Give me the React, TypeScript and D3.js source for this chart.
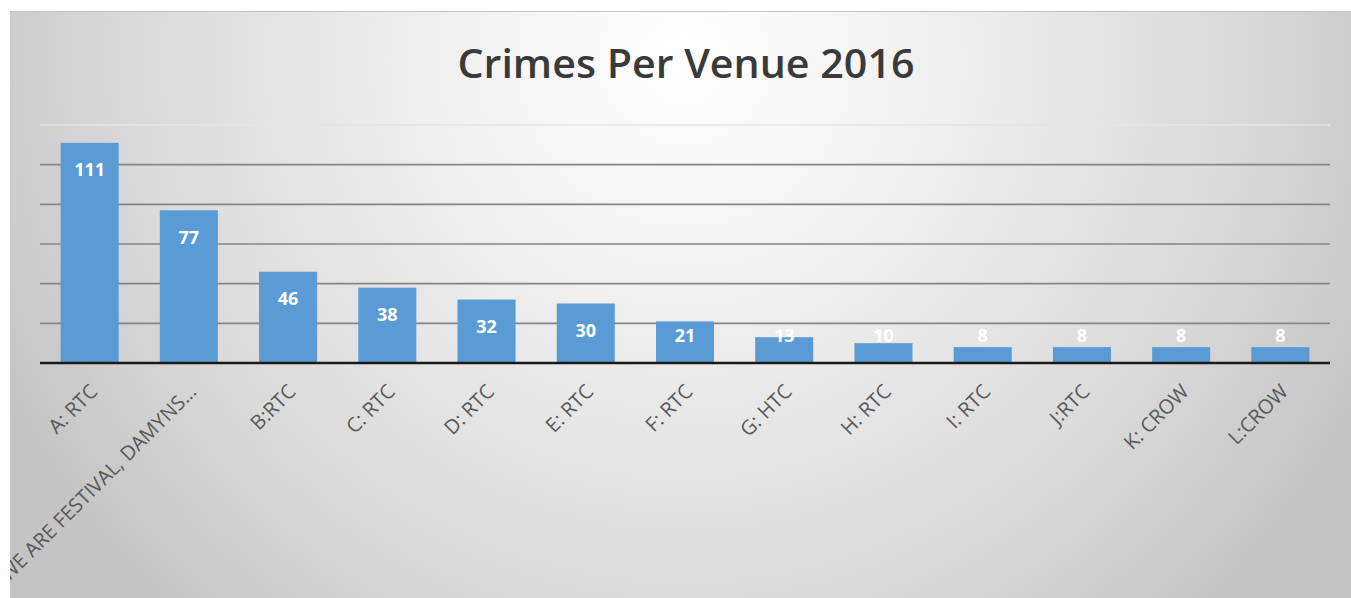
import React from "react";
import * as d3 from "d3";

const categories = [
  "A: RTC",
  "WE ARE FESTIVAL, DAMYNS...",
  "B:RTC",
  "C: RTC",
  "D: RTC",
  "E: RTC",
  "F: RTC",
  "G: HTC",
  "H: RTC",
  "I: RTC",
  "J:RTC",
  "K: CROW",
  "L:CROW",
];
const crimes = [111, 77, 46, 38, 32, 30, 21, 13, 10, 8, 8, 8, 8];
const yTicks = [20, 40, 60, 80, 100, 120];
const title = "Crimes Per Venue 2016";

const W = 1351;
const H = 598;
const FX = 10;
const FY = 11;
const PL = 40;
const PR = 1330;
const PT = 125;
const PB = 363;

export default function App() {
  const x = d3.scaleBand<string>().domain(categories).range([PL, PR]).paddingInner(0.415).paddingOuter(0.2075);
  const y = d3.scaleLinear().domain([0, 120]).range([PB, PT]);
  const font = "'Open Sans', 'Noto Sans', sans-serif";

  return (
    <svg width={W} height={H} style={{ position: "absolute", left: 0, top: 0 }}>
      <defs>
        <radialGradient id="bg" gradientUnits="userSpaceOnUse" cx={685} cy={60} r={760} fx={685} fy={60}>
          <stop offset="0" stopColor="#ffffff" />
          <stop offset="0.3" stopColor="#f1f1f1" />
          <stop offset="0.72" stopColor="#dadada" />
          <stop offset="1" stopColor="#c4c4c4" />
        </radialGradient>
        <clipPath id="frame">
          <rect x={FX} y={FY} width={W - FX} height={H - FY} />
        </clipPath>
      </defs>
      <rect x={0} y={0} width={W} height={H} fill="#ffffff" />
      <rect x={FX} y={FY} width={W - FX} height={H - FY} fill="url(#bg)" />
      <line x1={FX} x2={W} y1={FY + 0.5} y2={FY + 0.5} stroke="#c0c0c0" strokeWidth={1} />

      <text x={686} y={78} textAnchor="middle" fontFamily={font} fontSize={40} fontWeight={600} fill="#3a3a3a"
        textLength={457} lengthAdjust="spacingAndGlyphs">
        {title}
      </text>

      {yTicks.map((t) => (
        <line key={t} x1={PL} x2={PR} y1={y(t)} y2={y(t)}
          stroke={t === 120 ? "#e4e4e4" : "#858585"} strokeWidth={1.6} />
      ))}

      {categories.map((c, i) => {
        const top = y(crimes[i]);
        const cx = (x(c) as number) + x.bandwidth() / 2;
        const ly = Math.min(top + 27, PB - 27);
        return (
          <g key={c}>
            <rect x={x(c)} y={top} width={x.bandwidth()} height={PB - top} fill="#5b9bd5" />
            <text x={cx} y={ly} dy="0.35em" textAnchor="middle" fontFamily={font} fontSize={18}
              fontWeight={700} fill="#ffffff">
              {crimes[i]}
            </text>
          </g>
        );
      })}

      <line x1={PL} x2={PR} y1={PB} y2={PB} stroke="#1a1a1a" strokeWidth={2.5} />

      <g clipPath="url(#frame)">
        {categories.map((c) => {
          const cx = (x(c) as number) + x.bandwidth() / 2 + 4;
          return (
            <text key={c} transform={`translate(${cx},${PB + 25}) rotate(-45)`} textAnchor="end"
              dy="0.35em" fontFamily={font} fontSize={20} fill="#595959">
              {c}
            </text>
          );
        })}
      </g>
    </svg>
  );
}
